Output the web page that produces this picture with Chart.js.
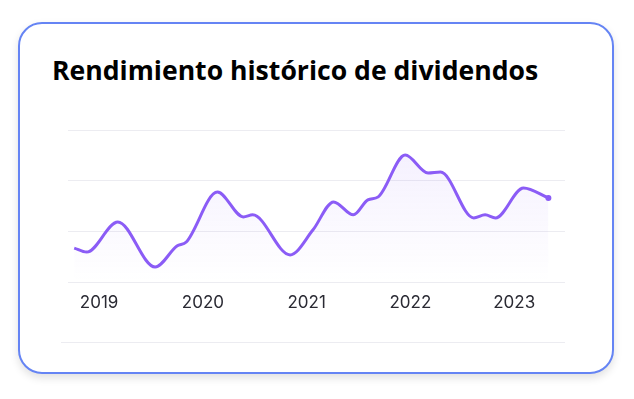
<!DOCTYPE html>
<html lang="es">
<head>
<meta charset="utf-8">
<title>Rendimiento histórico de dividendos</title>
<script src="https://cdn.jsdelivr.net/npm/chart.js@4.4.1/dist/chart.umd.min.js"></script>
<style>
  html, body { margin: 0; padding: 0; background: #fff; }
  body { width: 634px; height: 399px; position: relative; overflow: hidden; }
  .tarjeta {
    position: absolute; left: 18px; top: 22px; width: 596px; height: 352px;
    box-sizing: border-box; border: 2px solid #6584f4; border-radius: 24px;
    box-shadow: 0 4px 8px rgba(0, 0, 0, 0.12); background: #fff;
  }
  h1 {
    position: absolute; left: 52px; top: 52px; margin: 0;
    font: 700 26.6px "Open Sans", sans-serif; color: #000; white-space: nowrap;
  }
  .grafico { position: absolute; left: 60px; top: 120px; width: 520px; height: 222px; }
  .linea-base { position: absolute; left: 61px; top: 342px; width: 504px; height: 1px; background: #ececf1; }
</style>
</head>
<body>
<div class="tarjeta"></div>
<h1>Rendimiento histórico de dividendos</h1>
<div class="grafico"><canvas id="grafico"></canvas></div>
<div class="linea-base"></div>
<script>
// fechas en años decimales y rendimiento (%)
const fechas = [2018.76, 2018.88, 2019.18, 2019.54, 2019.75, 2019.84, 2020.14, 2020.39, 2020.48, 2020.84,
  2021.06, 2021.26, 2021.45, 2021.59, 2021.69, 2021.95, 2022.17, 2022.29, 2022.61, 2022.72, 2022.82,
  2023.09, 2023.33];
const rendimiento = [1.34, 1.18, 2.37, 0.59, 1.42, 1.58, 3.55, 2.57, 2.65, 1.07,
  2.05, 3.16, 2.65, 3.24, 3.36, 5.01, 4.30, 4.34, 2.53, 2.65, 2.53,
  3.71, 3.32];
const anios = [2019, 2020, 2021, 2022, 2023];
const lineasY = [0, 2, 4, 6];

const puntos = fechas.map((f, i) => ({ x: f, y: rendimiento[i] }));

new Chart(document.getElementById('grafico'), {
  type: 'line',
  data: {
    datasets: [{
      data: puntos,
      borderColor: '#8b5cf6',
      borderWidth: 3,
      cubicInterpolationMode: 'monotone',
      fill: 'start',
      backgroundColor: (ctx) => {
        const area = ctx.chart.chartArea;
        if (!area) return 'rgba(139,92,246,0.06)';
        const g = ctx.chart.ctx.createLinearGradient(0, area.top, 0, area.bottom);
        g.addColorStop(0, 'rgba(139,92,246,0.10)');
        g.addColorStop(1, 'rgba(139,92,246,0.0)');
        return g;
      },
      pointRadius: puntos.map((p, i) => (i === puntos.length - 1 ? 3 : 0)),
      pointBackgroundColor: '#8b5cf6',
      pointBorderWidth: 0
    }]
  },
  options: {
    responsive: true,
    maintainAspectRatio: false,
    animation: false,
    layout: { padding: { left: 8, right: 15, top: 10, bottom: 0 } },
    plugins: { legend: { display: false }, tooltip: { enabled: false } },
    scales: {
      x: {
        type: 'linear',
        min: 2018.70,
        max: 2023.49,
        afterBuildTicks: (scale) => { scale.ticks = anios.map(v => ({ value: v })); },
        afterFit: (scale) => { scale.height = 60; },
        grid: { display: false, drawTicks: false },
        border: { display: false },
        ticks: {
          padding: 11,
          color: '#2a2a33',
          font: { family: 'Inter', size: 17 },
          callback: (v) => String(v),
          maxRotation: 0
        }
      },
      y: {
        min: 0,
        max: 6,
        afterBuildTicks: (scale) => { scale.ticks = lineasY.map(v => ({ value: v })); },
        grid: { color: '#ececf1', drawTicks: false },
        border: { display: false },
        ticks: { display: false }
      }
    }
  }
});
</script>
</body>
</html>
